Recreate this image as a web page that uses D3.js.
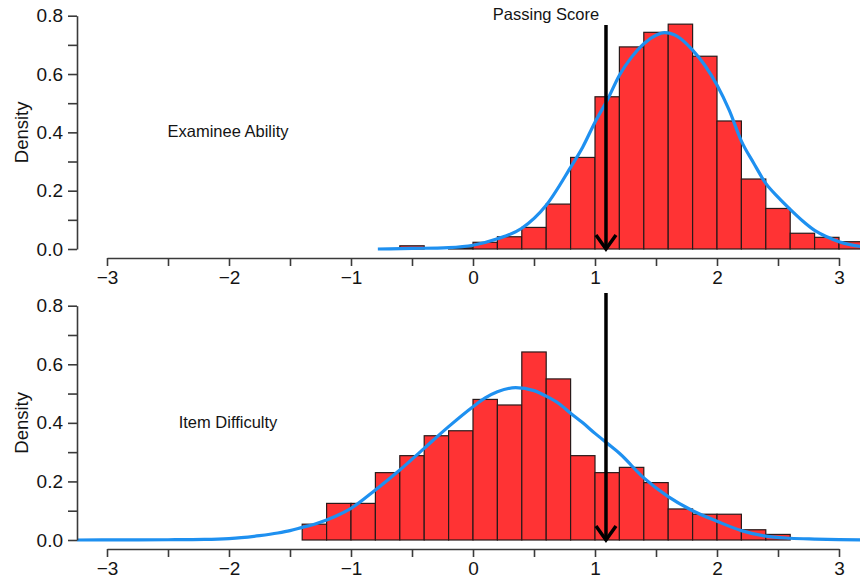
<!DOCTYPE html>
<html>
<head>
<meta charset="utf-8">
<script src="https://cdn.jsdelivr.net/npm/d3@7"></script>
<style>
  body { margin: 0; background: #fff; }
  svg text { font-family: "Liberation Sans", Arial, sans-serif; fill: #141414; }
</style>
</head>
<body>
<div class="chart"></div>
<script>
// histogram bins (left edges) and densities
var abilityBins = [-0.6, -0.4, -0.2, 0.0, 0.2, 0.4, 0.6, 0.8, 1.0, 1.2, 1.4, 1.6, 1.8, 2.0, 2.2, 2.4, 2.6, 2.8, 3.0];
var abilityDensity = [0.011, 0, 0.004, 0.023, 0.042, 0.074, 0.154, 0.314, 0.522, 0.693, 0.743, 0.771, 0.661, 0.439, 0.240, 0.139, 0.054, 0.040, 0.025];

var difficultyBins = [-1.4, -1.2, -1.0, -0.8, -0.6, -0.4, -0.2, 0.0, 0.2, 0.4, 0.6, 0.8, 1.0, 1.2, 1.4, 1.6, 1.8, 2.0, 2.2, 2.4];
var difficultyDensity = [0.054, 0.125, 0.125, 0.230, 0.288, 0.356, 0.373, 0.480, 0.461, 0.642, 0.550, 0.288, 0.230, 0.248, 0.196, 0.106, 0.088, 0.088, 0.035, 0.019];

var binWidth = 0.2;

// smoothed density curves
var abilityCurveX = [-0.78, -0.5, -0.2, 0.0, 0.2, 0.4, 0.6, 0.8, 0.9, 1.0, 1.1, 1.2, 1.3, 1.4, 1.5, 1.57, 1.65, 1.7, 1.8, 1.9, 2.0, 2.1, 2.2, 2.3, 2.4, 2.5, 2.6, 2.7, 2.8, 2.9, 3.0, 3.1, 3.2];
var abilityCurveY = [0.0, 0.002, 0.005, 0.013, 0.035, 0.071, 0.15, 0.28, 0.35, 0.435, 0.51, 0.596, 0.658, 0.704, 0.733, 0.742, 0.735, 0.722, 0.682, 0.63, 0.562, 0.476, 0.37, 0.295, 0.225, 0.178, 0.136, 0.097, 0.064, 0.042, 0.025, 0.014, 0.007];

var difficultyCurveX = [-3.3, -2.8, -2.5, -2.2, -2.0, -1.9, -1.75, -1.6, -1.5, -1.4, -1.3, -1.2, -1.1, -1.0, -0.8, -0.6, -0.4, -0.2, 0.0, 0.1, 0.2, 0.35, 0.5, 0.6, 0.7, 0.8, 0.9, 1.0, 1.1, 1.2, 1.4, 1.6, 1.8, 2.0, 2.2, 2.4, 2.6, 2.8, 3.0, 3.3];
var difficultyCurveY = [0.0, 0.0003, 0.0008, 0.002, 0.005, 0.008, 0.015, 0.024, 0.032, 0.043, 0.054, 0.068, 0.086, 0.108, 0.171, 0.239, 0.313, 0.387, 0.455, 0.485, 0.506, 0.52, 0.51, 0.491, 0.467, 0.433, 0.4, 0.364, 0.33, 0.296, 0.212, 0.148, 0.1, 0.064, 0.032, 0.013, 0.006, 0.003, 0.001, 0.0];

var passScore = 1.09;
var xTicks = [-3, -2.5, -2, -1.5, -1, -0.5, 0, 0.5, 1, 1.5, 2, 2.5, 3];
var yTicks = [0, 0.1, 0.2, 0.3, 0.4, 0.5, 0.6, 0.7, 0.8];

var w = 860, h = 579;

var svg = d3.select(".chart").append("svg")
    .attr("width", w)
    .attr("height", h);

svg.append("clipPath").attr("id", "plotclip")
  .append("rect").attr("x", 77).attr("y", 0).attr("width", w - 77).attr("height", h);

var x = d3.scaleLinear().domain([-3, 3]).range([107, 839]);

var panels = [
  {bins: abilityBins, dens: abilityDensity, cx: abilityCurveX, cy: abilityCurveY,
   top: 15.7, bottom: 249, axisY: 258, label: "Examinee Ability", labelY: 131.7, arrowTop: 25, passText: true},
  {bins: difficultyBins, dens: difficultyDensity, cx: difficultyCurveX, cy: difficultyCurveY,
   top: 305.7, bottom: 540, axisY: 549, label: "Item Difficulty", labelY: 422.7, arrowTop: 293, passText: false}
];

panels.forEach(function(p) {
  var y = d3.scaleLinear().domain([0, 0.8]).range([p.bottom, p.top]);
  var g = svg.append("g");

  // bars
  g.append("g").attr("clip-path", "url(#plotclip)")
    .selectAll("rect").data(p.bins).enter().append("rect")
    .attr("x", function(d) { return x(d); })
    .attr("width", function(d) { return x(d + binWidth) - x(d); })
    .attr("y", function(d, i) { return y(p.dens[i]); })
    .attr("height", function(d, i) { return y(0) - y(p.dens[i]); })
    .attr("fill", "#ff3334")
    .attr("stroke", "#2a1a1a")
    .attr("stroke-width", 1.2);

  // density curve
  var line = d3.line()
    .x(function(d) { return x(d); })
    .y(function(d, i) { return y(p.cy[i]); })
    .curve(d3.curveMonotoneX);
  g.append("path").attr("clip-path", "url(#plotclip)")
    .attr("d", line(p.cx))
    .attr("fill", "none")
    .attr("stroke", "#1e90f0")
    .attr("stroke-width", 3.2);

  // axes
  var yAxis = d3.axisLeft(y).tickValues(yTicks).tickSize(9).tickSizeOuter(0).tickPadding(5)
    .tickFormat(function(d) { return Math.round(d * 10) % 2 === 0 ? d3.format(".1f")(d) : ""; });
  var ya = g.append("g").attr("transform", "translate(77,0)").call(yAxis);

  var xAxis = d3.axisBottom(x).tickValues(xTicks).tickSize(8).tickSizeOuter(0).tickPadding(5)
    .tickFormat(function(d) { return d % 1 === 0 ? (d < 0 ? "\u2212" + Math.abs(d) : String(d)) : ""; });
  var xa = g.append("g").attr("transform", "translate(0," + p.axisY + ")").call(xAxis);

  [ya, xa].forEach(function(a) {
    a.selectAll("path, line").attr("stroke", "#3a3a3a").attr("stroke-width", 1.6);
    a.selectAll("text").attr("font-size", 19).attr("fill", "#141414")
      .style("font-family", "'Liberation Sans', Arial, sans-serif");
  });

  g.append("text")
    .attr("transform", "translate(22," + (p.top + p.bottom) / 2 + ") rotate(-90)")
    .attr("text-anchor", "middle")
    .attr("dy", "0.35em")
    .attr("font-size", 18.5)
    .text("Density");

  g.append("text")
    .attr("x", 228).attr("y", p.labelY)
    .attr("dy", "0.35em")
    .attr("text-anchor", "middle")
    .attr("font-size", 16.5)
    .text(p.label);

  // passing score arrow
  var ax = x(passScore), ab = y(0);
  g.append("line")
    .attr("x1", ax).attr("x2", ax).attr("y1", p.arrowTop).attr("y2", ab)
    .attr("stroke", "#000").attr("stroke-width", 3.5);
  g.append("path")
    .attr("d", "M" + (ax - 10) + "," + (ab - 14) + "L" + ax + "," + ab + "L" + (ax + 10) + "," + (ab - 14))
    .attr("fill", "none").attr("stroke", "#000").attr("stroke-width", 3.5);

  if (p.passText) {
    g.append("text")
      .attr("x", 546).attr("y", 19.5)
      .attr("text-anchor", "middle")
      .attr("font-size", 16.5)
      .text("Passing Score");
  }
});
</script>
</body>
</html>
